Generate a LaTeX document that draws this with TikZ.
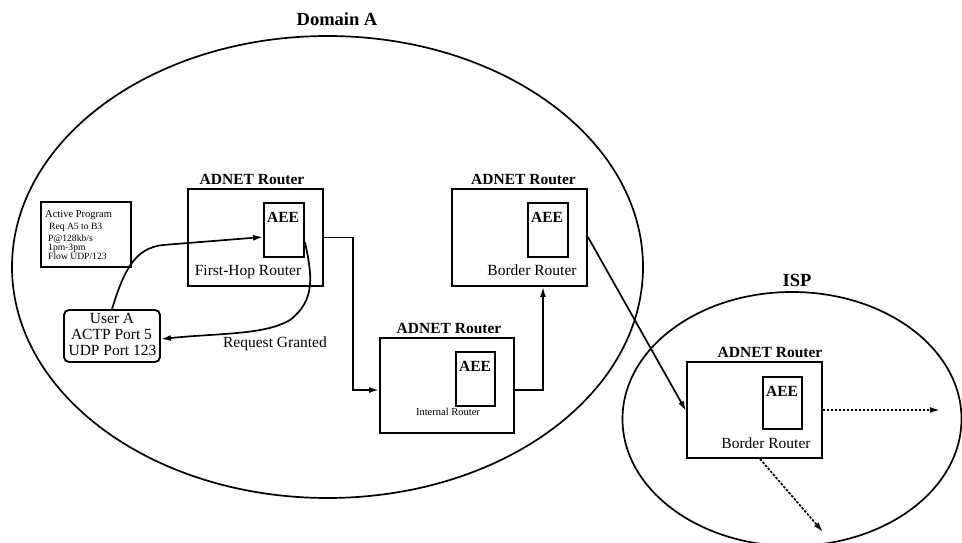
\documentclass[tikz,border=0pt]{standalone}
\usepackage{fontspec}
\setmainfont{Liberation Serif}
\usetikzlibrary{arrows.meta}

\begin{document}
\begin{tikzpicture}[x=1pt,y=-1pt,
  domline/.style={draw, line width=1.7pt},
  routerbox/.style={draw, line width=1.9pt, inner sep=0pt, minimum width=135pt, minimum height=97pt},
  aeebox/.style={draw, line width=1.9pt, inner sep=0pt, minimum width=40pt, minimum height=54pt},
  infobox/.style={draw, line width=1.9pt, inner sep=0pt},
  bigtext/.style={font=\fontsize{15.5}{16}\selectfont, inner sep=0pt},
  boldtext/.style={font=\bfseries\fontsize{15.5}{16}\selectfont, inner sep=0pt},
  titletext/.style={font=\bfseries\fontsize{18.5}{20}\selectfont, inner sep=0pt},
  smalltext/.style={font=\fontsize{10.5}{11}\selectfont, inner sep=0pt},
  progtext/.style={font=\fontsize{9.6}{10}\selectfont, inner sep=0pt, anchor=base west},
  arr/.style={line width=1.7pt, -{Latex[length=10pt,width=6pt]}},
  dotarr/.style={line width=1.7pt, dash pattern=on 2.5pt off 1.5pt, -{Latex[length=10pt,width=6pt]}}
]
\useasboundingbox (0,0) rectangle (962,543);

% domains
\draw[domline] (327.5,267) ellipse [x radius=315.5pt, y radius=231pt];
\draw[domline] (792,419) ellipse [x radius=169.5pt, y radius=127pt];
\node[titletext, anchor=base] (tdom) at (337,26) {Domain A};
\node[titletext, anchor=base] (tisp) at (797,286) {ISP};

% routers in Domain A
\node[routerbox] (fh) at (255.5,237.5) {};
\node[aeebox] (fhaee) at (284,230) {};
\node[routerbox] (br) at (519.5,237.5) {};
\node[aeebox] (braee) at (548,230) {};
\node[routerbox, minimum width=134pt, minimum height=95pt] (ir) at (447,385.5) {};
\node[aeebox, minimum width=39pt] (iraee) at (475.5,379) {};

% router in ISP
\node[routerbox, minimum height=96pt] (isp) at (754.5,410) {};
\node[aeebox, minimum width=39pt, minimum height=52pt] (ispaee) at (782.5,403) {};

% router titles
\node[boldtext, anchor=base] (lfh) at (252,184.5) {ADNET Router};
\node[boldtext, anchor=base] (lbr) at (523.5,184.5) {ADNET Router};
\node[boldtext, anchor=base] (lir) at (449,333.5) {ADNET Router};
\node[boldtext, anchor=base] (lisp) at (770,357.5) {ADNET Router};

% AEE labels
\node[boldtext, anchor=base] (afh) at (283,222) {AEE};
\node[boldtext, anchor=base] (abr) at (547,222) {AEE};
\node[boldtext, anchor=base] (air) at (475,371) {AEE};
\node[boldtext, anchor=base] (aisp) at (782,396) {AEE};

% router names
\node[bigtext, anchor=base] (nfh) at (248,275) {First-Hop Router};
\node[bigtext, anchor=base] (nbr) at (532,275) {Border Router};
\node[smalltext, anchor=base] (nir) at (448,415) {Internal Router};
\node[bigtext, anchor=base] (nisp) at (766,448) {Border Router};

% active program
\node[infobox, minimum width=90pt, minimum height=65pt] (prog) at (86,234.5) {};
\node[progtext, font=\fontsize{10.5}{11}\selectfont] (p1) at (45,217) {Active Program};
\node[progtext] (p2) at (49,229.5) {Req A5 to B3};
\node[progtext] (p3) at (48,241) {P@128kb/s};
\node[progtext] (p4) at (48,250.5) {1pm-3pm};
\node[progtext] (p5) at (48,259.5) {Flow UDP/123};

% user
\node[infobox, rounded corners=5pt, minimum width=96pt, minimum height=52pt] (ua) at (112,336) {};
\node[bigtext, anchor=base] (u1) at (112,323) {User A};
\node[bigtext, anchor=base] (u2) at (111.5,339) {ACTP Port 5};
\node[bigtext, anchor=base] (u3) at (112.5,355) {UDP Port 123};

\node[bigtext, anchor=base] (rg) at (275,347) {Request Granted};

% signalling between user and first-hop AEE
\draw[arr] (ua.north) .. controls (124,270) and (135,248) .. (163,245)
  -- ([yshift=-7pt]fhaee.west);
\draw[arr] ([yshift=-12pt]fhaee.east) .. controls (312,275) and (316,300) .. (290,320)
  .. controls (265,335) and (220,333) .. ([yshift=-3pt]ua.east);

% data path
\draw[arr] (fh.east) -- ++(29,0) |- ([yshift=-4.5pt]ir.west);
\draw[arr] ([yshift=-4.5pt]ir.east) -| ([xshift=23.5pt]br.south);
\draw[arr] ([yshift=0.5pt]br.east) -- ([yshift=-1pt]isp.west);
\draw[dotarr] (isp.east) -- (940,410);
\draw[dotarr] ([xshift=5.5pt]isp.south) -- (823,532);
\end{tikzpicture}
\end{document}
